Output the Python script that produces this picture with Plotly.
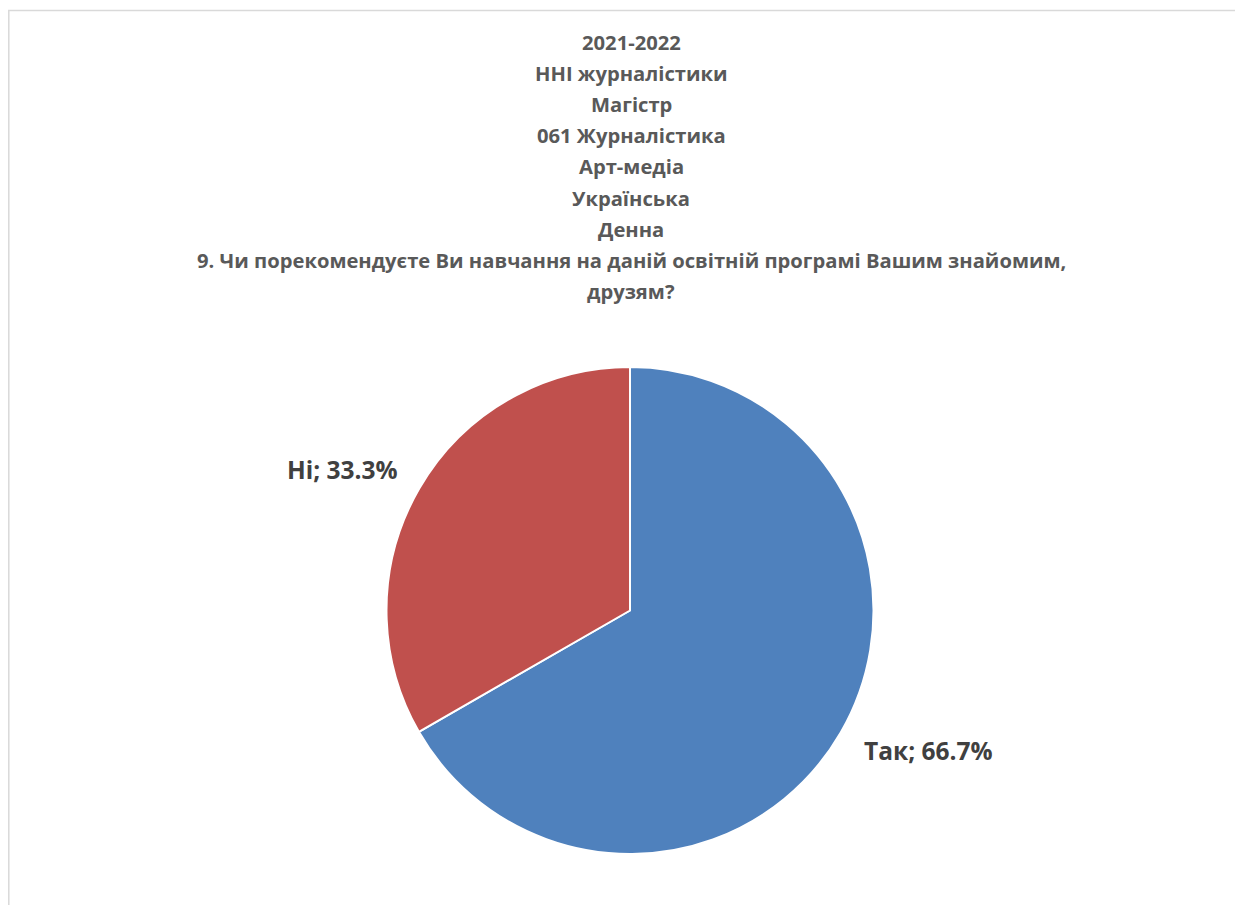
import plotly.graph_objects as go

labels = ["Так", "Ні"]
values = [66.7, 33.3]
colors = ["#4f81bd", "#c0504d"]

title_lines = [
    "2021-2022",
    "ННІ журналістики",
    "Магістр",
    "061 Журналістика",
    "Арт-медіа",
    "Українська",
    "Денна",
    "9. Чи порекомендуєте Ви навчання на даній освітній програмі Вашим знайомим,",
    "друзям?",
]

W, H = 1243, 905
OFF = 8  # відступ body у сторінці


def px_x(x):
    return (x - OFF) / W


def px_y(y):
    return 1 - (y - OFF) / H


fig = go.Figure()
fig.add_trace(go.Pie(
    labels=labels,
    values=values,
    marker=dict(colors=colors, line=dict(color="white", width=2)),
    sort=False,
    direction="clockwise",
    rotation=0,
    textinfo="none",
    hoverinfo="label+percent",
    showlegend=False,
    domain=dict(x=[px_x(386), px_x(874)], y=[px_y(854), px_y(367)]),
))

annotations = []
for i, line in enumerate(title_lines):
    annotations.append(dict(
        text=f"<b>{line}</b>", x=px_x(631), y=px_y(42 + i * 31.1),
        xref="paper", yref="paper", showarrow=False, xanchor="center", yanchor="middle",
        font=dict(family="Open Sans", size=20.2, color="#595959"),
    ))

# підписи секторів
label_pos = {"Так": (862, 750, "left"), "Ні": (400, 470, "right")}
for lab, val in zip(labels, values):
    px, py, anchor = label_pos[lab]
    annotations.append(dict(
        text=f"<b>{lab}; {val:.1f}%</b>", x=px_x(px), y=px_y(py),
        xref="paper", yref="paper", showarrow=False, xanchor=anchor, yanchor="middle",
        font=dict(family="Open Sans", size=24.5, color="#404040"),
    ))

fig.update_layout(
    width=W,
    height=H,
    margin=dict(l=0, r=0, t=0, b=0),
    paper_bgcolor="white",
    annotations=annotations,
    shapes=[dict(
        type="rect", xref="paper", yref="paper",
        x0=0.8 / W, x1=1.02, y0=-0.02, y1=px_y(10.5),
        line=dict(color="#d9d9d9", width=1.5),
    )],
)

fig.write_html("out.html")
